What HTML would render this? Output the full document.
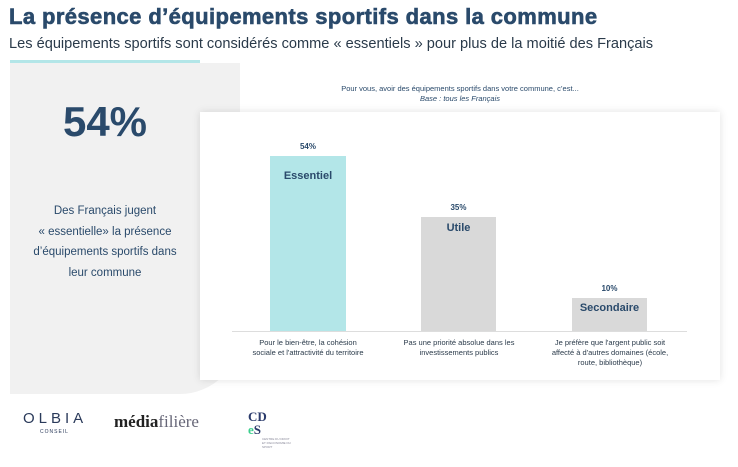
<!DOCTYPE html>
<html><head><meta charset="utf-8"><style>
body{margin:0;width:738px;height:467px;background:#fff;font-family:"Liberation Sans",sans-serif;position:relative;overflow:hidden;color:#2a4a6b}
.a{position:absolute}
</style></head><body>
<div class="a" style="left:9px;top:4px;font-size:22px;font-weight:bold;color:#2a4a6b;letter-spacing:0.4px;-webkit-text-stroke:0.6px #2a4a6b">La présence d’équipements sportifs dans la commune</div>
<div class="a" style="left:9px;top:36px;font-size:14.6px;color:#2a3a4a">Les équipements sportifs sont considérés comme « essentiels » pour plus de la moitié des Français</div>
<div class="a" style="left:10px;top:60px;width:190px;height:3px;background:#b3e6e8"></div>
<div class="a" style="left:10px;top:63px;width:230px;height:331px;background:#f1f1f1;border-bottom-right-radius:60px"></div>
<div class="a" style="left:10px;top:98px;width:190px;text-align:center;font-size:42px;font-weight:bold;color:#2a4a6b">54%</div>
<div class="a" style="left:10px;top:201px;width:190px;text-align:center;font-size:11.5px;line-height:20.5px;color:#2a4a6b">Des Français jugent<br>« essentielle» la présence<br>d’équipements sportifs dans<br>leur commune</div>
<div class="a" style="left:200px;top:84px;width:520px;text-align:center;font-size:7.5px;color:#2a4a6b;line-height:10px">Pour vous, avoir des équipements sportifs dans votre commune, c’est...<br><i>Base : tous les Français</i></div>
<div class="a" style="left:200px;top:112px;width:520px;height:268px;background:#fff;box-shadow:0 0 8px rgba(0,0,0,0.12)"></div>
<div class="a" style="left:232px;top:331px;width:455px;height:1px;background:#ddd"></div>
<div class="a" style="left:270px;top:156px;width:76px;height:175px;background:#b3e6e8"></div>
<div class="a" style="left:421px;top:217px;width:75px;height:114px;background:#d9d9d9"></div>
<div class="a" style="left:572px;top:298px;width:75px;height:33px;background:#d9d9d9"></div>
<div class="a" style="left:270px;top:142px;width:76px;text-align:center;font-size:8px;font-weight:bold">54%</div>
<div class="a" style="left:421px;top:203px;width:75px;text-align:center;font-size:8px;font-weight:bold">35%</div>
<div class="a" style="left:572px;top:284px;width:75px;text-align:center;font-size:8px;font-weight:bold">10%</div>
<div class="a" style="left:270px;top:170px;width:76px;text-align:center;font-size:11px;font-weight:bold">Essentiel</div>
<div class="a" style="left:421px;top:222px;width:75px;text-align:center;font-size:11px;font-weight:bold">Utile</div>
<div class="a" style="left:572px;top:302px;width:75px;text-align:center;font-size:11px;font-weight:bold">Secondaire</div>
<div class="a" style="left:233px;top:338px;width:150px;text-align:center;font-size:7.5px;line-height:10px;color:#2a3a4a">Pour le bien-être, la cohésion<br>sociale et l'attractivité du territoire</div>
<div class="a" style="left:384px;top:338px;width:150px;text-align:center;font-size:7.5px;line-height:10px;color:#2a3a4a">Pas une priorité absolue dans les<br>investissements publics</div>
<div class="a" style="left:535px;top:338px;width:150px;text-align:center;font-size:7.5px;line-height:10px;color:#2a3a4a">Je préfère que l'argent public soit<br>affecté à d'autres domaines (école,<br>route, bibliothèque)</div>
<div class="a" style="left:23px;top:410px;font-size:15px;letter-spacing:4px;color:#2a3a5a">OLBIA</div>
<div class="a" style="left:40px;top:429px;font-size:5px;letter-spacing:1px;color:#2a3a5a">CONSEIL</div>
<div class="a" style="left:114px;top:412px;font-size:17px;font-family:'Liberation Serif',serif;font-weight:bold;color:#222">média<span style="color:#667;font-weight:normal">filière</span></div>
<div class="a" style="left:248px;top:410px;font-size:13px;font-weight:bold;line-height:13px;color:#2a3a6b;font-family:'Liberation Serif',serif">CD<br><span style="color:#3ccf8e">e</span>S</div>
<div class="a" style="left:262px;top:437px;width:30px;height:10px;font-size:3px;color:#889">CENTRE DU DROIT ET D'ECONOMIE DU SPORT</div>
</body></html>
